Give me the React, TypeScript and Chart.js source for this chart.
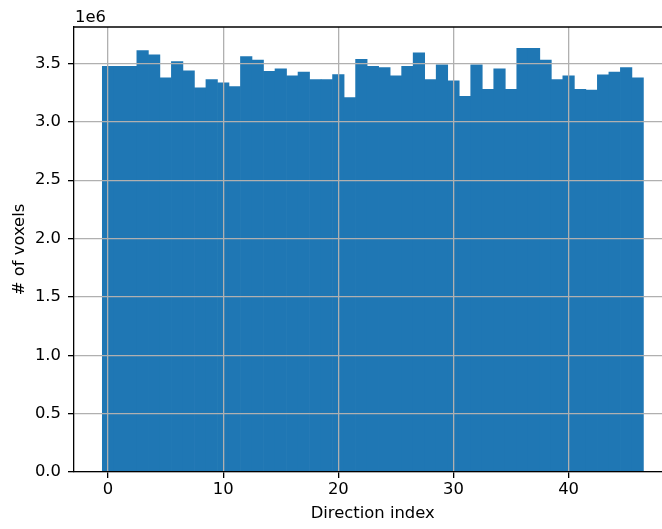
import React, { useEffect, useRef } from "react";
import { Chart, registerables } from "chart.js";

Chart.register(...registerables);

const directionIndex = [
  0, 1, 2, 3, 4, 5, 6, 7, 8, 9, 10, 11, 12, 13, 14, 15, 16, 17, 18, 19, 20, 21, 22, 23,
  24, 25, 26, 27, 28, 29, 30, 31, 32, 33, 34, 35, 36, 37, 38, 39, 40, 41, 42, 43, 44, 45, 46,
];

const voxelCounts = [
  3476000, 3476000, 3476000, 3611000, 3573000, 3376000, 3516000, 3436000, 3291000, 3362000,
  3334000, 3302000, 3559000, 3528000, 3433000, 3454000, 3394000, 3425000, 3362000, 3362000,
  3405000, 3208000, 3536000, 3476000, 3465000, 3394000, 3476000, 3591000, 3362000, 3488000,
  3351000, 3218000, 3488000, 3279000, 3454000, 3279000, 3630000, 3630000, 3528000, 3362000,
  3394000, 3279000, 3271000, 3402000, 3425000, 3465000, 3376000,
];

const xTicks = [0, 10, 20, 30, 40];
const yTicks = [0, 500000, 1000000, 1500000, 2000000, 2500000, 3000000, 3500000];

const FONT = { family: "'DejaVu Sans', sans-serif", size: 16.4 };

export default function App() {
  const ref = useRef<HTMLCanvasElement | null>(null);

  useEffect(() => {
    if (!ref.current) return;
    const topSpine = {
      id: "topSpine",
      afterDraw(chart: any) {
        const { ctx, chartArea } = chart;
        ctx.save();
        ctx.strokeStyle = "#000";
        ctx.lineWidth = 1.3;
        ctx.beginPath();
        ctx.moveTo(chartArea.left, chartArea.top);
        ctx.lineTo(chartArea.right, chartArea.top);
        ctx.stroke();
        ctx.fillStyle = "#000";
        ctx.font = `16.4px 'DejaVu Sans', sans-serif`;
        ctx.textAlign = "left";
        ctx.textBaseline = "alphabetic";
        ctx.fillText("1e6", chartArea.left + 1, 21.5);
        ctx.restore();
      },
    };

    const chart = new Chart(ref.current, {
      type: "bar",
      data: {
        datasets: [
          {
            data: directionIndex.map((x, i) => ({ x, y: voxelCounts[i] })),
            backgroundColor: "#1f77b4",
            borderWidth: 0,
            barPercentage: 1,
            categoryPercentage: 1,
            grouped: false,
          },
        ],
      },
      options: {
        animation: false,
        responsive: false,
        devicePixelRatio: 1,
        layout: { padding: { top: 27, right: 0.6, left: 0, bottom: 0 } },
        plugins: { legend: { display: false }, tooltip: { enabled: false } },
        scales: {
          x: {
            type: "linear",
            min: -2.96,
            max: 48.93,
            offset: false,
            afterBuildTicks: (s: any) => {
              s.ticks = xTicks.map((v) => ({ value: v }));
            },
            afterFit: (s: any) => {
              s.height = 57;
              s.paddingLeft = 0;
              s.paddingRight = 0;
            },
            grid: {
              offset: false,
              color: "#b0b0b0",
              lineWidth: 1.3,
              z: 1,
              drawTicks: true,
              tickLength: 6,
              tickColor: "#000",
              tickWidth: 1.3,
            },
            border: { color: "#000", width: 1.3, z: 2 },
            ticks: {
              color: "#000",
              font: FONT,
              padding: 2,
              maxRotation: 0,
              autoSkip: false,
              callback: (v: any) => String(v),
            },
            title: {
              display: true,
              text: "Direction index",
              color: "#000",
              font: FONT,
              padding: { top: 0, bottom: 5.7 },
            },
          },
          y: {
            type: "linear",
            min: 0,
            max: 3812000,
            afterBuildTicks: (s: any) => {
              s.ticks = yTicks.map((v) => ({ value: v }));
            },
            afterFit: (s: any) => {
              s.width = 74;
              s.paddingTop = 0;
              s.paddingBottom = 0;
            },
            grid: {
              color: "#b0b0b0",
              lineWidth: 1.3,
              z: 1,
              drawTicks: true,
              tickLength: 6,
              tickColor: "#000",
              tickWidth: 1.3,
            },
            border: { color: "#000", width: 1.3, z: 2 },
            ticks: {
              color: "#000",
              font: FONT,
              padding: 7,
              autoSkip: false,
              callback: (v: any) => (Number(v) / 1e6).toFixed(1),
            },
            title: {
              display: true,
              text: "# of voxels",
              color: "#000",
              font: FONT,
              padding: { top: 9.7, bottom: 0 },
            },
          },
        },
      },
      plugins: [topSpine],
    } as any);

    return () => chart.destroy();
  }, []);

  return (
    <div
      style={{
        position: "fixed",
        left: 0,
        top: 0,
        width: 662,
        height: 529,
        overflow: "hidden",
        background: "#fff",
      }}
    >
      <canvas ref={ref} width={672} height={529} style={{ display: "block" }} />
    </div>
  );
}
